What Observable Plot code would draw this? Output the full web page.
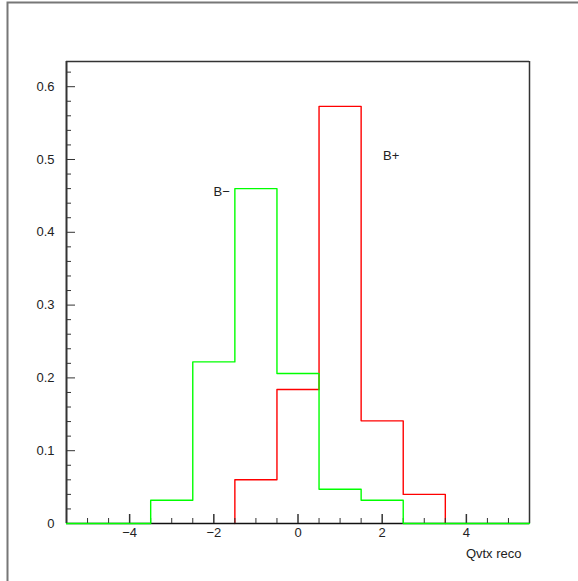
<!DOCTYPE html>
<html>
<head>
<meta charset="utf-8">
<script src="https://cdn.jsdelivr.net/npm/d3@7"></script>
<script src="https://cdn.jsdelivr.net/npm/@observablehq/plot@0.6"></script>
<style>
  html, body { margin: 0; padding: 0; background: #fff; }
  #chart { position: relative; width: 578px; height: 581px; }
  svg { display: block; }
</style>
</head>
<body>
<div id="chart"></div>
<script>
// Bin centres (bins of width 1, from -5.5 to 5.5)
const binCenters = [-5, -4, -3, -2, -1, 0, 1, 2, 3, 4, 5];
// B- histogram (green)
const bMinus = [0, 0, 0.032, 0.222, 0.460, 0.206, 0.047, 0.032, 0, 0, 0];
// B+ histogram (red)
const bPlus  = [0, 0, 0, 0, 0.060, 0.184, 0.573, 0.141, 0.040, 0, 0];
// Axis ticks
const xLabelTicks = [-4, -2, 0, 2, 4];
const xMinorTicks = d3.range(-5, 5.01, 0.5);
const yLabelTicks = [0, 0.1, 0.2, 0.3, 0.4, 0.5, 0.6];
const yMinorTicks = d3.range(0, 0.621, 0.02);
// Series labels
const labelMinus = [{text: "B\u2212", x: -1.62, y: 0.455}];
const labelPlus = [{text: "B+", x: 2.02, y: 0.505}];
const xLabel = "Qvtx reco";

const W = 578, H = 581;
const mL = 66, mR = 49, mT = 61, mB = 58;
const xDom = [-5.5, 5.5], yDom = [0, 0.6346];
const kx = (W - mL - mR) / (xDom[1] - xDom[0]);
const ky = (H - mT - mB) / (yDom[1] - yDom[0]);

// Outline of a histogram; drawBaseline=false skips the empty bins on the sides
function steps(vals, drawBaseline) {
  let lo = 0, hi = vals.length - 1;
  if (!drawBaseline) {
    while (lo < hi && vals[lo] === 0) lo++;
    while (hi > lo && vals[hi] === 0) hi--;
  }
  const pts = [];
  if (!drawBaseline) pts.push({x: binCenters[lo] - 0.5, y: 0});
  for (let i = lo; i <= hi; i++) pts.push({x: binCenters[i] - 0.5, y: vals[i]});
  if (drawBaseline) pts.push({x: binCenters[hi] + 0.5, y: 0});
  else { pts.push({x: binCenters[hi] + 0.5, y: vals[hi]}); pts.push({x: binCenters[hi] + 0.5, y: 0}); }
  return pts;
}
const isMajorX = d => Math.abs(d % 2) < 1e-9;
const isMajorY = d => Math.abs(Math.round(d * 10) - d * 10) < 1e-6;

const font = "'Liberation Sans', Arial, Helvetica, sans-serif";

const plot = Plot.plot({
  width: W, height: H,
  marginLeft: mL, marginRight: mR, marginTop: mT, marginBottom: mB,
  style: {fontFamily: font, fontSize: "13px", color: "#222", background: "#fff"},
  x: {domain: xDom, axis: null, label: null},
  y: {domain: yDom, axis: null, label: null},
  marks: [
    Plot.line(steps(bPlus, false), {x: "x", y: "y", curve: "step-after", stroke: "#ff0000", strokeWidth: 1.4}),
    // frame
    Plot.ruleY([yDom[1]], {stroke: "#333", strokeWidth: 1.5}),
    Plot.ruleX([xDom[1]], {stroke: "#333", strokeWidth: 1.5}),
    Plot.ruleX([xDom[0]], {stroke: "#333", strokeWidth: 2}),
    Plot.ruleY([0], {stroke: "#111", strokeWidth: 1.6}),
    // x ticks (inward)
    Plot.ruleX(xMinorTicks, {x: d => d, y1: 0, y2: d => (isMajorX(d) ? 9 : 5) / ky, stroke: "#333", strokeWidth: d => isMajorX(d) ? 1.5 : 1}),
    // y ticks (inward)
    Plot.ruleY(yMinorTicks, {y: d => d, x1: xDom[0], x2: d => xDom[0] + (isMajorY(d) ? 9 : 5) / kx, stroke: "#333", strokeWidth: 1}),
    Plot.line(steps(bMinus, true), {x: "x", y: "y", curve: "step-after", stroke: "#00ff00", strokeWidth: 1.4}),
    // tick labels
    Plot.axisX(xLabelTicks, {anchor: "bottom", label: null, tickSize: 0, tickPadding: 4, fontSize: 13, fill: "#222"}),
    Plot.axisY(yLabelTicks, {anchor: "left", label: null, tickSize: 0, tickPadding: 12, fontSize: 13, fill: "#222", tickFormat: d => d === 0 ? "0" : d3.format(".1f")(d)}),
    Plot.text([xLabel], {frameAnchor: "bottom-right", text: d => d, dx: -8, dy: 34, textAnchor: "end", fontSize: 13, fill: "#222"}),
    Plot.text(labelMinus, {x: "x", y: "y", text: "text", textAnchor: "end", fontSize: 13, fill: "#222"}),
    Plot.text(labelPlus, {x: "x", y: "y", text: "text", textAnchor: "start", fontSize: 13, fill: "#222"})
  ]
});

// outer canvas border (top and left)
const svg = d3.select(plot);
svg.append("path").attr("d", `M7.5,${H} V2.5 H${W}`).attr("fill", "none").attr("stroke", "#777").attr("stroke-width", 2);

document.getElementById("chart").appendChild(plot);
</script>
</body>
</html>
